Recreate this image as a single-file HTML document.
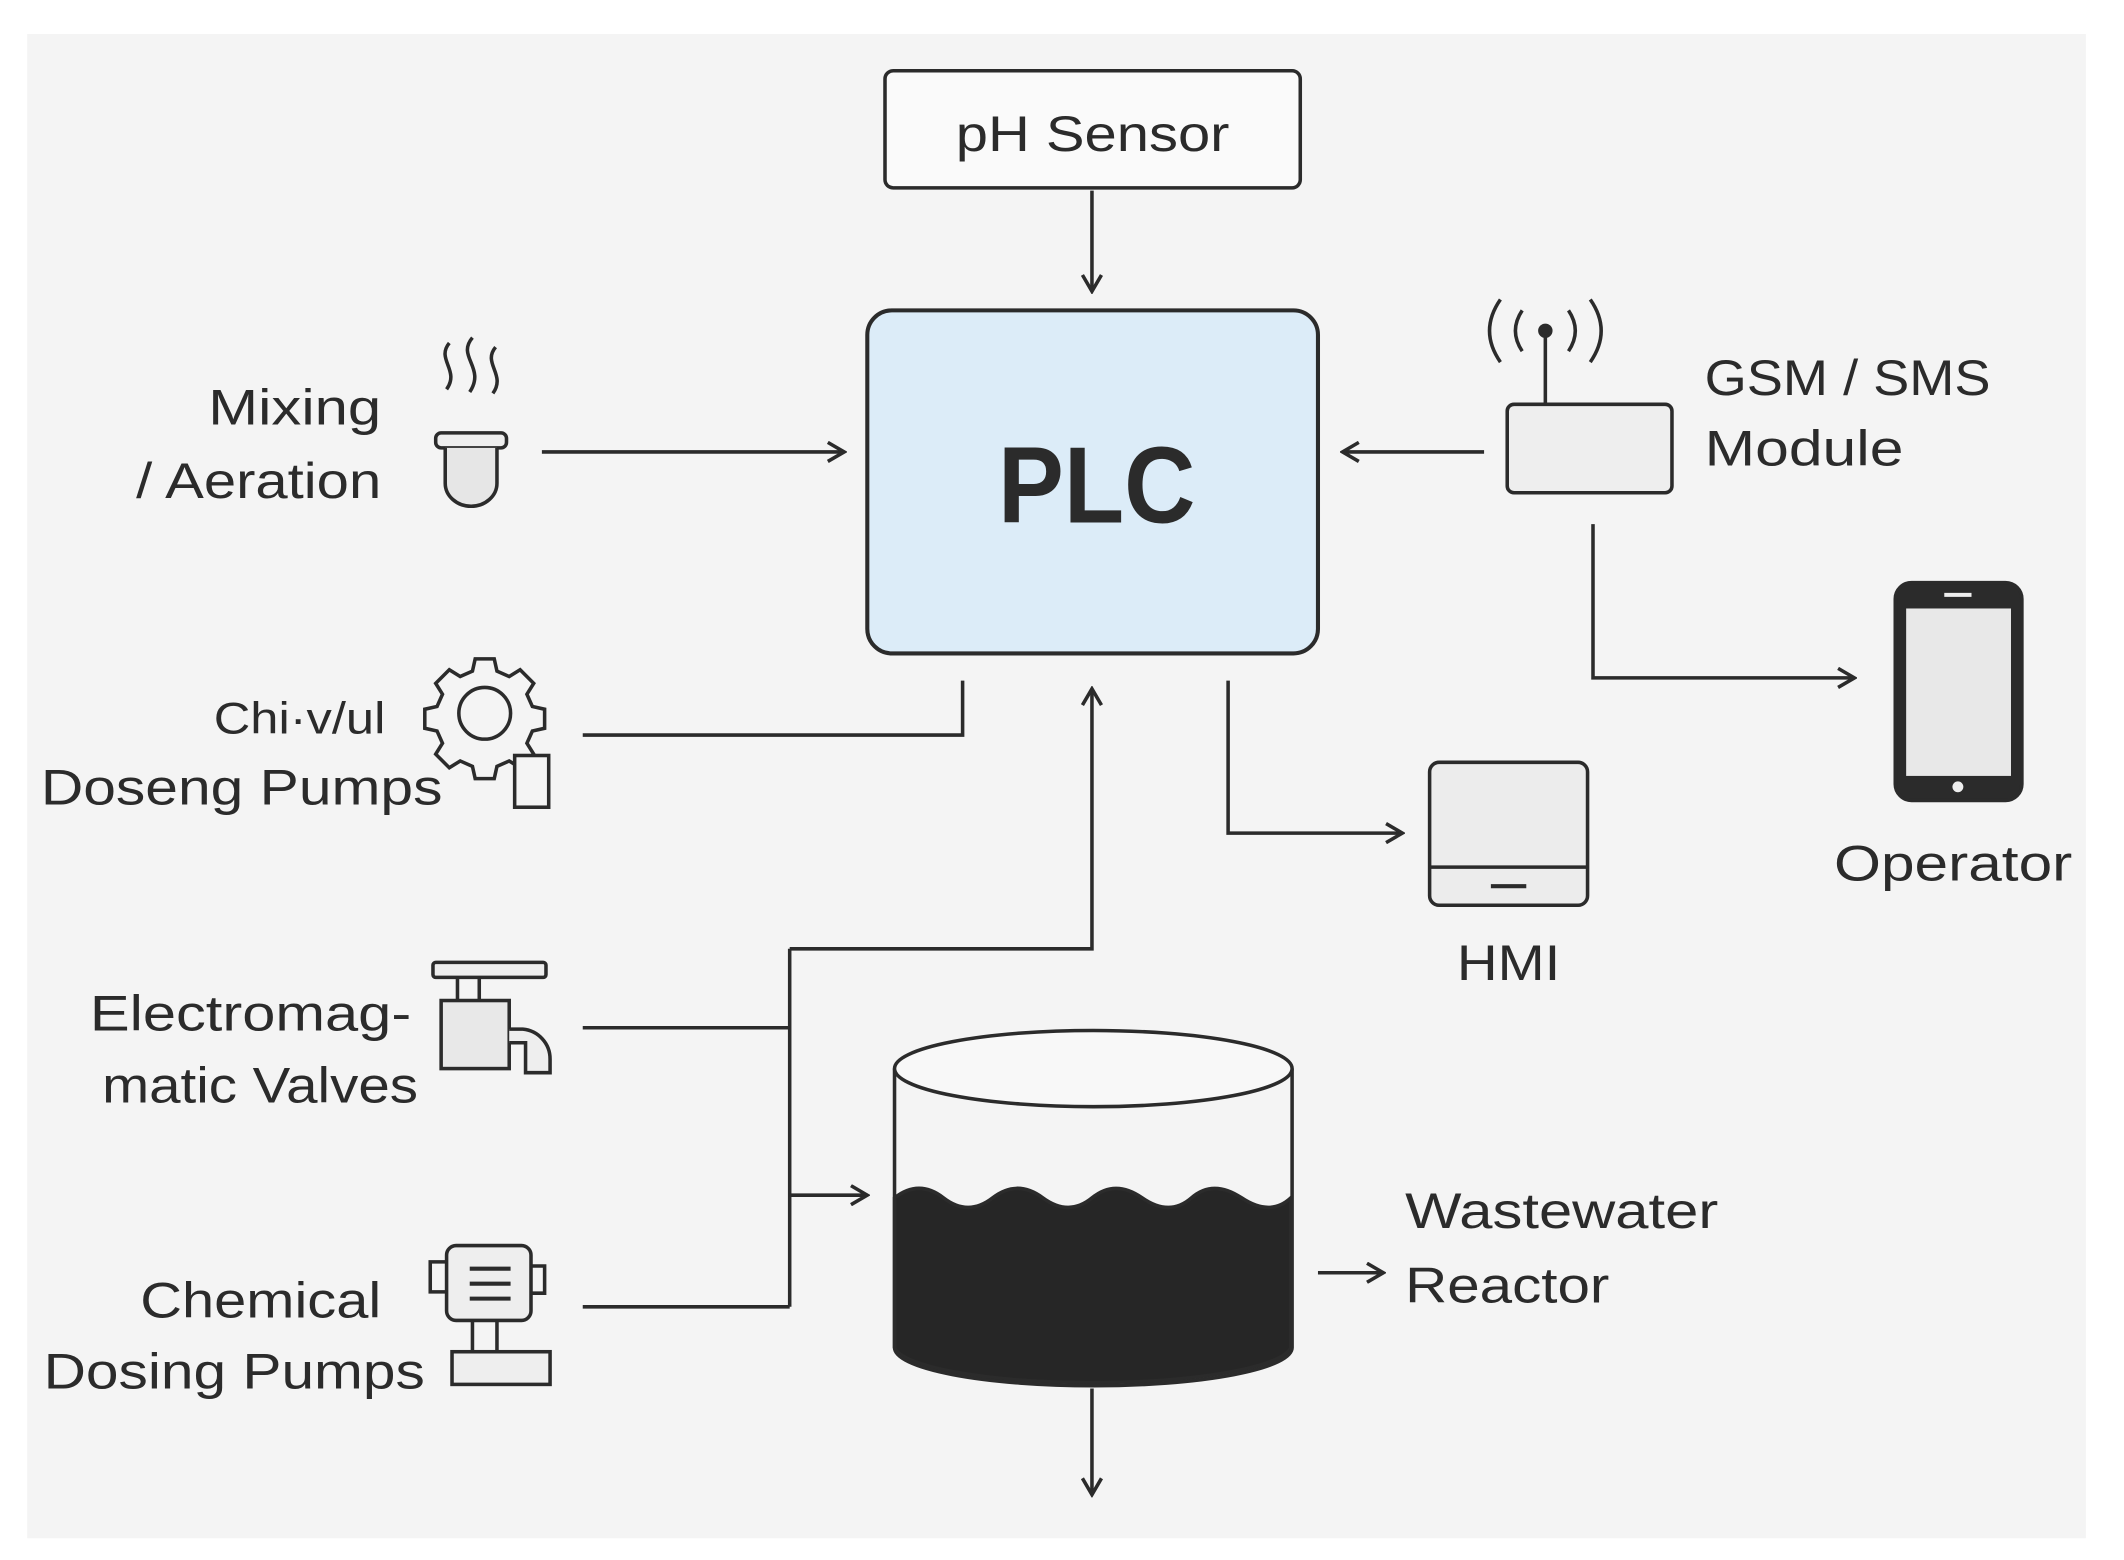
<!DOCTYPE html>
<html><head><meta charset="utf-8"><style>
html,body{margin:0;padding:0;background:#fff}
svg{display:block}
text{font-family:"Liberation Sans","DejaVu Sans",sans-serif;fill:#2b2b2b}
</style></head><body>
<svg width="2124" height="1560" viewBox="0 0 1560 1146" preserveAspectRatio="none" xmlns="http://www.w3.org/2000/svg">
<defs>
<marker id="a" viewBox="0 0 16 16" refX="14" refY="8" markerWidth="16" markerHeight="16" markerUnits="userSpaceOnUse" orient="auto">
<path d="M2,1 L14,8 L2,15" fill="none" stroke="#2b2b2b" stroke-width="2.6"/>
</marker>
</defs>
<rect width="1560" height="1146" fill="#fff"/>
<rect x="20" y="25" width="1512" height="1105" fill="#f4f4f4"/>
<g stroke="#2b2b2b" stroke-width="2.6" fill="none">
<rect x="650" y="52" width="305" height="86" rx="6" fill="#fafafa"/>
<line x1="802" y1="140" x2="802" y2="214" marker-end="url(#a)"/>
<rect x="637" y="228" width="331" height="252" rx="18" fill="#dcecf8" stroke-width="3"/>
<path d="M330,252 c-10,12 8,20 -2,34 M347,248 c-12,14 10,22 -2,40 M364,255 c-10,12 8,20 -2,34"/>
<rect x="320" y="318" width="52" height="11" rx="4" fill="#eee"/>
<path d="M327,329 V355 a18,16 0 0 0 38,0 V329" fill="#e6e6e6"/>
<line x1="398" y1="332" x2="620" y2="332" marker-end="url(#a)"/>
<rect x="1107" y="297" width="121" height="65" rx="5" fill="#eee"/>
<line x1="1135" y1="244" x2="1135" y2="297"/>
<circle cx="1135" cy="243" r="4" fill="#2b2b2b"/>
<path d="M1118,228 q-10,15 0,30 M1102,220 q-16,23 0,46 M1152,228 q10,15 0,30 M1168,220 q16,23 0,46"/>
<line x1="1090" y1="332" x2="986" y2="332" marker-end="url(#a)"/>
<polyline points="1170,385 1170,498 1362,498" marker-end="url(#a)"/>
<rect x="1392" y="428" width="93" height="160" rx="12" fill="#2b2b2b"/>
<rect x="1400" y="447" width="77" height="123" fill="#e8e8e8" stroke="none"/>
<line x1="1428" y1="437" x2="1448" y2="437" stroke="#eee" stroke-width="3"/>
<circle cx="1438" cy="578" r="4" fill="#eee" stroke="none"/>
<path d="M428,540 H707 V500"/>
<g transform="translate(356,524)">
<circle r="19"/>
<path d="M-7,-40 h14 l2,9 l9,4 l8,-5 l10,10 l-5,8 l4,9 l9,2 v14 l-9,2 l-4,9 l5,8 l-10,10 l-8,-5 l-9,4 l-2,9 h-14 l-2,-9 l-9,-4 l-8,5 l-10,-10 l5,-8 l-4,-9 l-9,-2 v-14 l9,-2 l4,-9 l-5,-8 l10,-10 l8,5 l9,-4 z"/>
</g>
<rect x="378" y="555" width="25" height="38" fill="#f4f4f4"/>
<polyline points="902,500 902,612 1030,612" marker-end="url(#a)"/>
<rect x="1050" y="560" width="116" height="105" rx="7" fill="#ececec"/>
<line x1="1050" y1="637" x2="1166" y2="637"/>
<line x1="1095" y1="651" x2="1121" y2="651" stroke-width="3"/>
<polyline points="580,697 802,697 802,506" marker-end="url(#a)"/>
<line x1="580" y1="697" x2="580" y2="960"/>
<line x1="428" y1="755" x2="580" y2="755"/>
<line x1="428" y1="960" x2="580" y2="960"/>
<line x1="580" y1="878" x2="637" y2="878" marker-end="url(#a)"/>
<rect x="318" y="707" width="83" height="11" rx="2" fill="#eee"/>
<path d="M336,718 V735 M352,718 V735"/>
<rect x="324" y="735" width="50" height="50" fill="#e8e8e8"/>
<path d="M374,766 h12 v22 h18 v-10 a22,22 0 0 0 -20,-22 h-10" fill="#eee"/>
<rect x="328" y="915" width="62" height="55" rx="7" fill="#eee"/>
<path d="M328,927 h-12 v22 h12 M390,930 h10 v20 h-10"/>
<path d="M345,932 H375 M345,943 H375 M345,954 H375" stroke-width="3"/>
<path d="M347,970 V995 M365,970 V995"/>
<rect x="332" y="993" width="72" height="24" fill="#eee"/>
<path d="M657,880 q18,-14 36,0 t36,0 t37,0 t36,0 t37,0 t36,0 t37,0 t36,0 V990 a146,28 0 0 1 -291,0 Z" fill="#262626"/>
<path d="M657,785 V990 a146,28 0 0 0 292,0 V785" />
<ellipse cx="803" cy="785" rx="146" ry="28" fill="#f8f8f8"/>
<line x1="802" y1="1020" x2="802" y2="1098" marker-end="url(#a)"/>
<line x1="968" y1="935" x2="1016" y2="935" marker-end="url(#a)"/>
</g>
<text x="702" y="111" font-size="37" textLength="201" lengthAdjust="spacingAndGlyphs">pH Sensor</text>
<text x="733" y="384" font-size="80" font-weight="bold" fill="#222" textLength="145" lengthAdjust="spacingAndGlyphs">PLC</text>
<g font-size="37" lengthAdjust="spacingAndGlyphs">
<text x="153" y="312" textLength="127" lengthAdjust="spacingAndGlyphs">Mixing</text>
<text x="100" y="366" textLength="180" lengthAdjust="spacingAndGlyphs">/ Aeration</text>
<text x="1252" y="290" textLength="210" lengthAdjust="spacingAndGlyphs">GSM / SMS</text>
<text x="1252" y="342" textLength="146" lengthAdjust="spacingAndGlyphs">Module</text>
<text x="1347" y="647" textLength="175" lengthAdjust="spacingAndGlyphs">Operator</text>
<text x="157" y="539" font-size="33" textLength="126" lengthAdjust="spacingAndGlyphs">Chi·v/ul</text>
<text x="30" y="591" textLength="295" lengthAdjust="spacingAndGlyphs">Doseng Pumps</text>
<text x="1070" y="720" textLength="76" lengthAdjust="spacingAndGlyphs">HMI</text>
<text x="66" y="757" textLength="236" lengthAdjust="spacingAndGlyphs">Electromag-</text>
<text x="75" y="810" textLength="232" lengthAdjust="spacingAndGlyphs">matic Valves</text>
<text x="103" y="968" textLength="177" lengthAdjust="spacingAndGlyphs">Chemical</text>
<text x="32" y="1020" textLength="280" lengthAdjust="spacingAndGlyphs">Dosing Pumps</text>
<text x="1032" y="902" textLength="230" lengthAdjust="spacingAndGlyphs">Wastewater</text>
<text x="1032" y="957" textLength="150" lengthAdjust="spacingAndGlyphs">Reactor</text>
</g>
</svg>
</body></html>
